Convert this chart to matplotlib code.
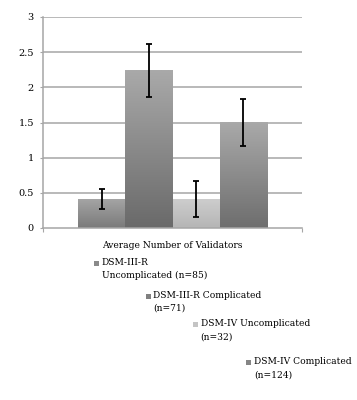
import numpy as np
import matplotlib
matplotlib.use("Agg")
import matplotlib.pyplot as plt
from matplotlib.patches import Rectangle
from matplotlib.colors import LinearSegmentedColormap

series = ["DSM-III-R\nUncomplicated (n=85)", "DSM-III-R Complicated\n(n=71)",
          "DSM-IV Uncomplicated\n(n=32)", "DSM-IV Complicated\n(n=124)"]
values = [0.41, 2.24, 0.41, 1.50]
errors = [0.14, 0.38, 0.26, 0.34]
top_colors = ["#a4a4a4", "#a9a9a9", "#cdcdcd", "#a9a9a9"]
bottom_colors = ["#7a7a7a", "#6a6a6a", "#b5b5b5", "#6e6e6e"]
legend_colors = ["#8a8a8a", "#808080", "#c4c4c4", "#858585"]
category = "Average Number of Validators"
yticks = [0, 0.5, 1, 1.5, 2, 2.5, 3]
yticklabels = ["0", "0.5", "1", "1.5", "2", "2.5", "3"]

W, H = 357, 400
fig = plt.figure(figsize=(W / 100, H / 100), dpi=100)
ax = fig.add_axes([43 / W, 1 - 228 / H, (302 - 43) / W, (228 - 17) / H])

font = "DejaVu Serif"
x = np.arange(len(values))
xlim = (-1.24, 4.24)
ax.set_xlim(*xlim)
ax.set_ylim(0, 3)

grid_c = "#a6a6a6"
for yt in yticks[1:]:
    ax.axhline(yt, color=grid_c, lw=1.1, zorder=0)

bars = ax.bar(x, values, width=1.0, color="none", edgecolor="none", zorder=2)
for b, tc, bc in zip(bars, top_colors, bottom_colors):
    cmap = LinearSegmentedColormap.from_list("g", [bc, tc])
    grad = np.linspace(0, 1, 100).reshape(-1, 1)
    x0, w = b.get_x(), b.get_width()
    h = b.get_height()
    ax.imshow(grad, cmap=cmap, origin="lower", aspect="auto",
              extent=(x0, x0 + w, 0, h), zorder=2, interpolation="bilinear")
ax.set_xlim(*xlim)
ax.set_ylim(0, 3)

ax.errorbar(x, values, yerr=errors, fmt="none", ecolor="black", elinewidth=1.3,
            capsize=2, capthick=1.3, zorder=3)

for s in ["top", "right"]:
    ax.spines[s].set_visible(False)
ax.spines["left"].set_color(grid_c)
ax.spines["bottom"].set_color(grid_c)
ax.spines["left"].set_linewidth(1.1)
ax.spines["bottom"].set_linewidth(1.1)
ax.set_yticks(yticks)
ax.set_yticklabels(yticklabels, fontfamily=font, fontsize=7)
ax.tick_params(axis="y", length=2.5, color=grid_c, pad=4)
ax.set_xticks(list(xlim))
ax.set_xticklabels([])
ax.tick_params(axis="x", length=3, color=grid_c)

fs = 6.6
fig.text(101.7 / W, 1 - 246 / H, category, fontfamily=font, fontsize=fs,
         va="center", ha="left")

sq_x = [94.3, 146, 193, 246]
txt_x = [101.7, 153.3, 200.7, 254]
row_y = [263.3, 296, 324.3, 362.3]
for i, (lab, c) in enumerate(zip(series, legend_colors)):
    fig.add_artist(Rectangle((sq_x[i] / W, 1 - (row_y[i] + 2.5) / H), 5 / W, 5 / H,
                             transform=fig.transFigure, facecolor=c, edgecolor="none"))
    fig.text(txt_x[i] / W, 1 - (row_y[i] - 5) / H, lab, fontfamily=font, fontsize=fs,
             va="top", ha="left", linespacing=1.55)

fig.savefig("out.png", dpi=100)
